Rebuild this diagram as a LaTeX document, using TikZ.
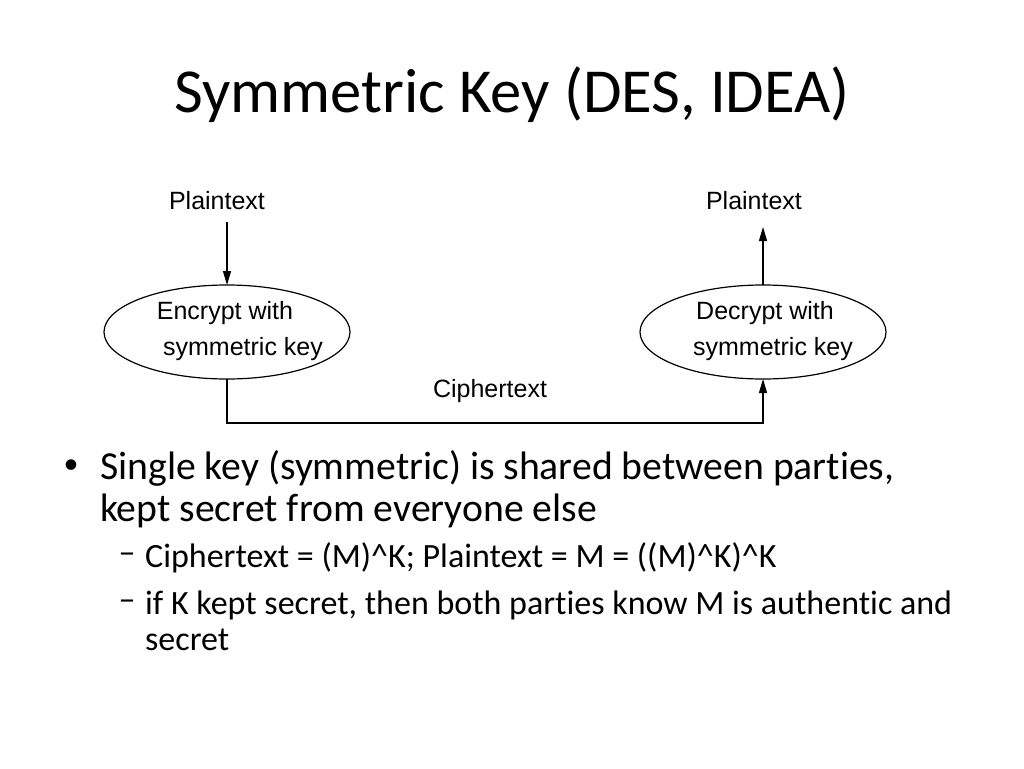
\documentclass[tikz,border=0pt]{standalone}
\usepackage{fontspec}
\setmainfont[Ligatures={NoCommon,NoDiscretionary,NoRare,NoContextual}]{Carlito}
\newfontfamily\arialf{Liberation Sans}
\usetikzlibrary{arrows.meta}
\begin{document}
\begin{tikzpicture}[x=1pt,y=-1pt,
  lbl/.style={font=\arialf\fontsize{25}{28}\selectfont, inner sep=0},
  conn/.style={line width=1.2pt, -{Triangle[length=14pt,width=8pt]}},
  body/.style={anchor=west, inner sep=0, font=\fontsize{39.7}{44}\selectfont},
  sub/.style={anchor=west, inner sep=0, font=\fontsize{34}{38}\selectfont}]
\useasboundingbox (0,0) rectangle (1024,768);
\node[inner sep=0, font=\fontsize{62.6}{68}\selectfont] (title) at (512,95) {Symmetric Key (DES, IDEA)};
\node[lbl] (p1) at (217,201) {Plaintext};
\node[lbl] (p2) at (754,201) {Plaintext};
\draw[line width=1.2pt] (227,332) ellipse [x radius=123, y radius=47];
\draw[line width=1.2pt] (763,332) ellipse [x radius=123, y radius=47];
\coordinate (e1t) at (227,285); \coordinate (e1b) at (227,379);
\coordinate (e2t) at (763,285); \coordinate (e2b) at (763,379);
\node[lbl] (t1) at (225,313) {Encrypt with};
\node[lbl] (t2) at (243,349) {symmetric key};
\node[lbl] (t3) at (765,313) {Decrypt with};
\node[lbl] (t4) at (773,349) {symmetric key};
\node[lbl] (c) at (490,391) {Ciphertext};
\coordinate (a1) at (227,222);
\coordinate (a3) at (763,227);
\draw[conn] (a1) -- (e1t);
\draw[conn] (e2t) -- (a3);
\draw[conn] (e1b) -- (227,423) -- (763,423) -- (e2b);
\node[inner sep=0, font=\fontsize{30}{34}\selectfont] (b) at (71,467) {\textbullet};
\node[body] (l1) at (100,468) {Single key (symmetric) is shared between parties,};
\node[body] (l2) at (100,511) {kept secret from everyone else};
\node[inner sep=0, font=\fontsize{34}{38}\selectfont] (d1) at (127,558) {\textendash};
\node[sub] (s1) at (145,558) {Ciphertext = (M)\^{}K; Plaintext = M = ((M)\^{}K)\^{}K};
\node[inner sep=0, font=\fontsize{34}{38}\selectfont] (d2) at (127,605) {\textendash};
\node[sub] (s2) at (145,605) {if K kept secret, then both parties know M is authentic and};
\node[sub] (s3) at (145,640) {secret};
\end{tikzpicture}
\end{document}
